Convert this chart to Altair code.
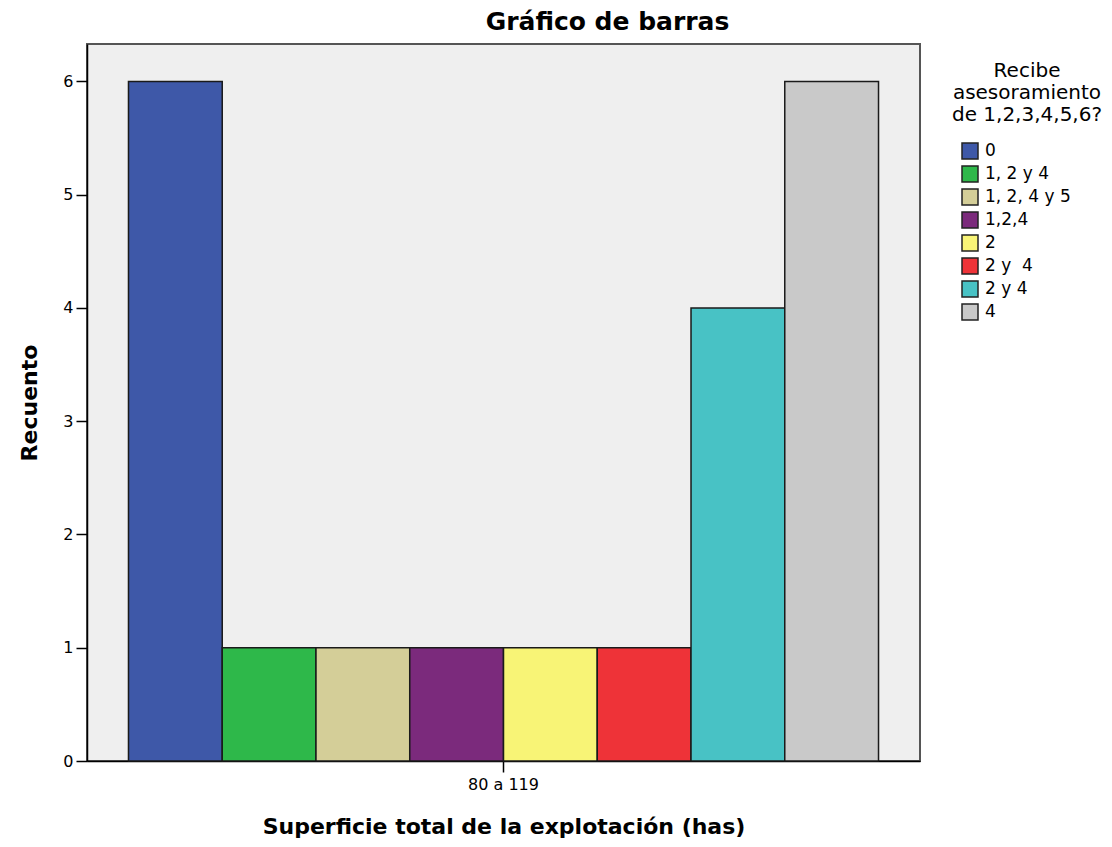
import altair as alt
import pandas as pd

# Data
superficie = ["80 a 119"] * 8
asesoramiento = ["0", "1, 2 y 4", "1, 2, 4 y 5", "1,2,4", "2", "2 y \u00a04", "2 y 4", "4"]
recuento = [6, 1, 1, 1, 1, 1, 4, 6]
colores = ["#3E58A8", "#2EB84A", "#D4CE98", "#7B2A7C", "#F8F476", "#EE3338", "#48C2C5", "#C9C9C9"]

df = pd.DataFrame({"sup": superficie, "asesor": asesoramiento, "n": recuento})

FONT = "DejaVu Sans"

bars = alt.Chart(df).mark_bar(stroke="#1a1a1a", strokeWidth=1.5, opacity=1).encode(
    x=alt.X("sup:N", title="Superficie total de la explotación (has)",
            scale=alt.Scale(paddingOuter=0.0553, paddingInner=0),
            axis=alt.Axis(labelAngle=0, titleFontWeight="bold", titleFontSize=22,
                          labelFontSize=16, titlePadding=24, labelPadding=4)),
    xOffset=alt.XOffset("asesor:N", sort=asesoramiento,
                        scale=alt.Scale(paddingInner=0, paddingOuter=0)),
    y=alt.Y("n:Q", title="Recuento",
            scale=alt.Scale(domain=[0, 6.33], nice=False),
            axis=alt.Axis(values=[0, 1, 2, 3, 4, 5, 6], titleFontWeight="bold",
                          titleFontSize=22, labelFontSize=16, titlePadding=21,
                          labelPadding=3)),
    color=alt.Color("asesor:N", sort=asesoramiento,
                    scale=alt.Scale(domain=asesoramiento, range=colores),
                    legend=alt.Legend(
                        title=["Recibe", "asesoramiento", "de 1,2,3,4,5,6?"],
                        titleFontWeight="normal", titleFontSize=20,
                        titleAnchor="middle", titleAlign="center",
                        titleLineHeight=22, titlePadding=17,
                        orient="none", legendX=865, legendY=17,
                        symbolType="square", symbolSize=256,
                        symbolStrokeColor="#222", symbolStrokeWidth=1.5,
                        symbolOpacity=1, symbolOffset=-23,
                        labelFontSize=17, labelOffset=6, rowPadding=1,
                        labelColor="black", titleColor="black")),
)

chart = bars.properties(
    width=833, height=717,
    background="white",
    title=alt.TitleParams("Gráfico de barras", fontSize=25, fontWeight="bold",
                          anchor="middle", dx=104, offset=9,
                          color="black", font=FONT),
    autosize=alt.AutoSizeParams(type="none"),
    padding={"left": 79, "top": 36, "right": 184, "bottom": 78},
).configure_view(
    fill="#EFEFEF", stroke="#555555", strokeWidth=2
).configure_axis(
    grid=False, domainColor="black", tickColor="black", tickSize=11,
    domainWidth=1.5, tickWidth=1.5, labelColor="black", titleColor="black",
    labelFont=FONT, titleFont=FONT
).configure_legend(
    labelFont=FONT, titleFont=FONT
)

chart.save("out.html", embed_options={"renderer": "svg", "actions": False})
